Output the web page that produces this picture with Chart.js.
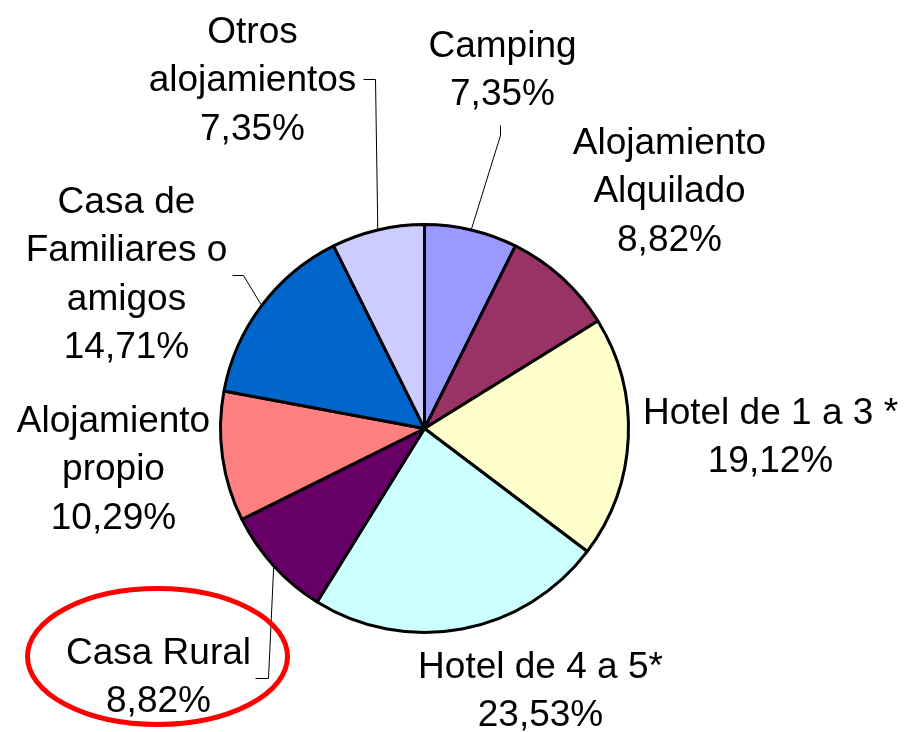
<!DOCTYPE html>
<html>
<head>
<meta charset="utf-8">
<title>Tipo de alojamiento</title>
<script src="https://cdn.jsdelivr.net/npm/chart.js@4"></script>
<style>
    html, body { margin: 0; padding: 0; background: #ffffff; }
    #chart { display: block; }
</style>
</head>
<body>
<canvas id="chart" width="904" height="732"></canvas>
<script>
// Categories (clockwise from 12 o'clock), each split into its label lines
const categories = [
    ['Camping'],
    ['Alojamiento', 'Alquilado'],
    ['Hotel de 1 a 3 *'],
    ['Hotel de 4 a 5*'],
    ['Casa Rural'],
    ['Alojamiento', 'propio'],
    ['Casa de', 'Familiares o', 'amigos'],
    ['Otros', 'alojamientos']
];

// Share of each accommodation type (%)
const shares = [7.35, 8.82, 19.12, 23.53, 8.82, 10.29, 14.71, 7.35];

const sliceColors = ['#9999FF', '#993366', '#FFFFCC', '#CCFFFF', '#660066', '#FF8080', '#0066CC', '#CCCCFF'];

// Label anchors: centre x and first baseline, relative to the pie centre
const labelOffsets = [
    [78, -372], [245, -275], [346, -5], [116, 249],
    [-266, 235], [-311, 3], [-298, -216], [-172, -386]
];

// Leader lines: start and elbow relative to the label anchor (null = no line)
const leaders = [
    [-2, 69, -2, 79], null, null, null,
    [97, 15, 110, 15], null, [106, 63, 117, 63], [111, 37, 123, 37]
];

const highlightIndex = 4; // Casa Rural gets a red ellipse
const fontSize = 37;
const lineHeight = 48.5;

const formatPct = v => v.toFixed(2).replace('.', ',') + '%';

// Draw outside labels, leader lines and the highlight ellipse
const outsideLabels = {
    id: 'outsideLabels',
    afterDatasetsDraw(chart) {
        const ctx = chart.ctx;
        const arcs = chart.getDatasetMeta(0).data;
        if (!arcs.length) return;
        const cx = arcs[0].x;
        const cy = arcs[0].y;

        ctx.save();
        ctx.font = fontSize + 'px "Liberation Sans", Arial, sans-serif';
        ctx.fillStyle = '#000000';
        ctx.textAlign = 'center';
        ctx.textBaseline = 'alphabetic';

        arcs.forEach((arc, i) => {
            const lx = cx + labelOffsets[i][0];
            const ly = cy + labelOffsets[i][1];
            const lines = categories[i].concat([formatPct(shares[i])]);
            lines.forEach((line, j) => {
                ctx.fillText(line, lx, ly + j * lineHeight);
            });

            const ld = leaders[i];
            if (ld) {
                const mid = (arc.startAngle + arc.endAngle) / 2;
                const ex = cx + Math.cos(mid) * arc.outerRadius;
                const ey = cy + Math.sin(mid) * arc.outerRadius;
                ctx.beginPath();
                ctx.strokeStyle = '#000000';
                ctx.lineWidth = 1;
                ctx.moveTo(lx + ld[0], ly + ld[1]);
                ctx.lineTo(lx + ld[2], ly + ld[3]);
                ctx.lineTo(ex, ey);
                ctx.stroke();
            }

            if (i === highlightIndex) {
                ctx.beginPath();
                ctx.strokeStyle = '#FF0000';
                ctx.lineWidth = 5;
                ctx.ellipse(lx - 1, ly - 7, 130, 68, 0, 0, Math.PI * 2);
                ctx.stroke();
            }
        });
        ctx.restore();
    }
};

const ctx = document.getElementById('chart').getContext('2d');
const chart = new Chart(ctx, {
    type: 'pie',
    data: {
        labels: categories.map(c => c.join(' ')),
        datasets: [{
            data: shares,
            backgroundColor: sliceColors,
            borderColor: '#000000',
            borderWidth: 3
        }]
    },
    options: {
        responsive: false,
        animation: false,
        devicePixelRatio: 1,
        layout: {
            padding: { left: 219, right: 274, top: 223, bottom: 98 }
        },
        plugins: {
            legend: { display: false },
            tooltip: { enabled: false }
        }
    },
    plugins: [outsideLabels]
});
</script>
</body>
</html>
